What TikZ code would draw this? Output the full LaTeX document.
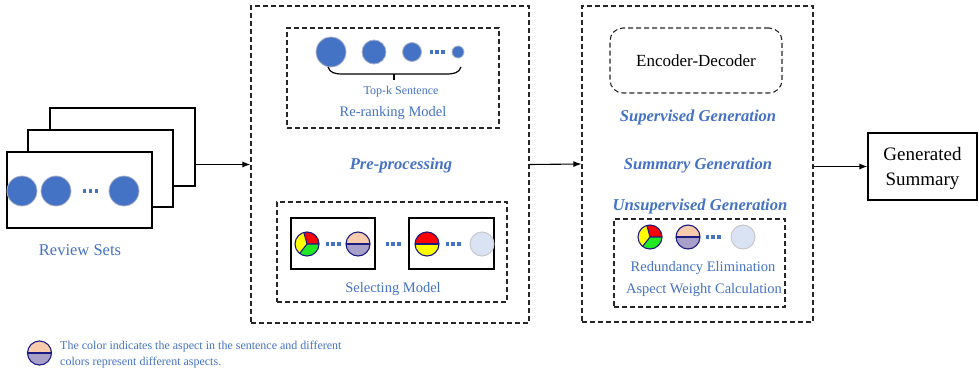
\documentclass[tikz,border=0pt]{standalone}
\usepackage{fontspec}
\setmainfont{Liberation Serif}
\usetikzlibrary{arrows.meta}
\definecolor{txtblue}{HTML}{4472C4}
\definecolor{sentblue}{HTML}{4472C4}
\definecolor{rimgray}{HTML}{B0B4C8}
\definecolor{navyline}{HTML}{1A1A80}
\definecolor{aspred}{HTML}{FF0000}
\definecolor{aspyellow}{HTML}{FFFF00}
\definecolor{aspgreen}{HTML}{22E822}
\definecolor{asppeach}{HTML}{F8CBAD}
\definecolor{asplilac}{HTML}{A9A0C9}
\definecolor{paleblue}{HTML}{DAE3F3}
\definecolor{palerim}{HTML}{C9C9C9}
\begin{document}
\begin{tikzpicture}[x=1pt,y=-1pt,
  dashbox/.style={draw=black!85, line width=1.1pt, dash pattern=on 5pt off 3pt, inner sep=0pt},
  solidbox/.style={draw=black, line width=1.2pt, fill=white, inner sep=0pt},
  sent/.style={circle, fill=sentblue, draw=rimgray, line width=0.8pt, inner sep=0pt, minimum size=#1},
  flow/.style={line width=1.1pt, -{Latex[length=8pt,width=6pt]}},
  bluetxt/.style={text=txtblue, inner sep=0pt},
  stagetxt/.style={text=txtblue, inner sep=0pt, font=\fontsize{16.6}{18}\selectfont\bfseries\itshape},
  pics/dotrow/.style={code={
    \fill[sentblue] (-7.5,-1.7) rectangle ++(3.4,3.4);
    \fill[sentblue] (-1.7,-1.7) rectangle ++(3.4,3.4);
    \fill[sentblue] (4.1,-1.7) rectangle ++(3.4,3.4);
  }},
  pics/pieA/.style={code={
    \begin{scope}[y=1pt]
      \fill[aspred] (0,0) -- (0:12) arc[start angle=0,end angle=105,radius=12] -- cycle;
      \fill[aspyellow] (0,0) -- (105:12) arc[start angle=105,end angle=232,radius=12] -- cycle;
      \fill[aspgreen] (0,0) -- (232:12) arc[start angle=232,end angle=360,radius=12] -- cycle;
      \draw[navyline, line width=1.1pt] (0,0) -- (0:12) (0,0) -- (105:12) (0,0) -- (232:12);
      \draw[navyline, line width=1.1pt] (0,0) circle[radius=12];
    \end{scope}
  }},
  pics/halfsplit/.style 2 args={code={
    \begin{scope}[y=1pt]
      \fill[#1] (12,0) arc[start angle=0,end angle=180,radius=12] -- cycle;
      \fill[#2] (-12,0) arc[start angle=180,end angle=360,radius=12] -- cycle;
      \draw[navyline, line width=1.6pt] (-12,0) -- (12,0);
      \draw[navyline, line width=1.1pt] (0,0) circle[radius=12];
    \end{scope}
  }},
  pics/paledot/.style={code={
    \draw[palerim, fill=paleblue, line width=1pt] (0,0) circle[radius=12];
  }}
]
\useasboundingbox (0,0) rectangle (979,372);

% ---------------- review sets ----------------
\node[solidbox, minimum width=145pt, minimum height=78pt] (rsback) at (122.5,147) {};
\node[solidbox, minimum width=145pt, minimum height=77pt] (rsmid) at (100.5,168.5) {};
\node[solidbox, minimum width=145pt, minimum height=76pt] (rsfront) at (79.5,190) {};
\node[sent=30pt] (rs1) at (22,191) {};
\node[sent=30pt] (rs2) at (56,191) {};
\node[sent=30pt] (rs3) at (124,191) {};
\pic at (90.5,191) {dotrow};
\node[bluetxt, font=\fontsize{16.5}{18}\selectfont] (rslabel) at (80,250.5) {Review Sets};

% ---------------- pre-processing ----------------
\node[dashbox, minimum width=278pt, minimum height=317pt] (pre) at (390,164.5) {};
\node[stagetxt] (prelabel) at (401,165.5) {Pre-processing};

% re-ranking model
\node[dashbox, minimum width=212pt, minimum height=100pt] (rerank) at (393,78) {};
\node[sent=30pt] (rk1) at (331,52) {};
\node[sent=24pt] (rk2) at (374,52) {};
\node[sent=19pt] (rk3) at (412,52) {};
\pic at (437,52) {dotrow};
\node[sent=12pt] (rk4) at (458,52) {};
\draw[line width=1.2pt] (328,67) .. controls (330,73) and (335,74) .. (343,74) -- (446,74)
  .. controls (454,74) and (459,73) .. (461,67);
\draw[line width=1.2pt] (394,74) -- (394,79.5);
\node[bluetxt, font=\fontsize{12}{13}\selectfont] (topk) at (401,91.5) {Top-k Sentence};
\node[bluetxt, font=\fontsize{14.5}{16}\selectfont] (rerankl) at (393,113) {Re-ranking Model};

% selecting model
\node[dashbox, minimum width=230pt, minimum height=100pt] (select) at (392,252) {};
\node[solidbox, line width=1.1pt, minimum width=84pt, minimum height=51pt] (grpA) at (333,243.5) {};
\node[solidbox, line width=1.1pt, minimum width=85pt, minimum height=51pt] (grpB) at (451.5,243.5) {};
\pic at (307,244) {pieA};
\pic at (333,244) {dotrow};
\pic at (358,244) {halfsplit={asppeach}{asplilac}};
\pic at (393,244) {dotrow};
\pic at (427,244) {halfsplit={aspred}{aspyellow}};
\pic at (453,244) {dotrow};
\pic at (482,244) {paledot};
\node[bluetxt, font=\fontsize{14.5}{16}\selectfont] (selectl) at (393,289) {Selecting Model};

% ---------------- summary generation ----------------
\node[dashbox, minimum width=231pt, minimum height=316pt] (gen) at (697.5,164) {};
\node[dashbox, rounded corners=13pt, minimum width=172pt, minimum height=65pt,
      font=\fontsize{17}{19}\selectfont] (encdec) at (696,60.5) {Encoder-Decoder};
\node[stagetxt] (suplabel) at (698,117.5) {Supervised Generation};
\node[stagetxt] (genlabel) at (698,165.5) {Summary Generation};
\node[stagetxt] (unsuplabel) at (700,207) {Unsupervised Generation};
\node[dashbox, minimum width=171pt, minimum height=88pt] (unsup) at (699.5,263) {};
\pic at (650,237) {pieA};
\pic at (688,237) {halfsplit={asppeach}{asplilac}};
\pic at (713,237) {dotrow};
\pic at (743,237) {paledot};
\node[bluetxt, font=\fontsize{14.5}{16}\selectfont] (redund) at (703,268.5) {Redundancy Elimination};
\node[bluetxt, font=\fontsize{14.5}{16}\selectfont] (aspw) at (704,290) {Aspect Weight Calculation};

% ---------------- output ----------------
\node[solidbox, line width=1.1pt, minimum width=109pt, minimum height=67pt, align=center,
      font=\fontsize{19}{25}\selectfont, text depth=-2pt] (out) at (922.5,166.5) {Generated\\Summary};

% ---------------- connectors ----------------
\draw[flow] (rsback.east |- pre.west) -- (pre.west);
\draw[flow] (pre.east) -- (gen.west);
\draw[flow] (out.west -| gen.east) -- (out.west);

% ---------------- legend ----------------
\pic at (39.5,353) {halfsplit={asppeach}{asplilac}};
\node[bluetxt, anchor=west, align=left, font=\fontsize{12}{16.5}\selectfont] (legend) at (60,354.5)
  {The color indicates the aspect in the sentence and different\\colors represent different aspects.};
\end{tikzpicture}
\end{document}
